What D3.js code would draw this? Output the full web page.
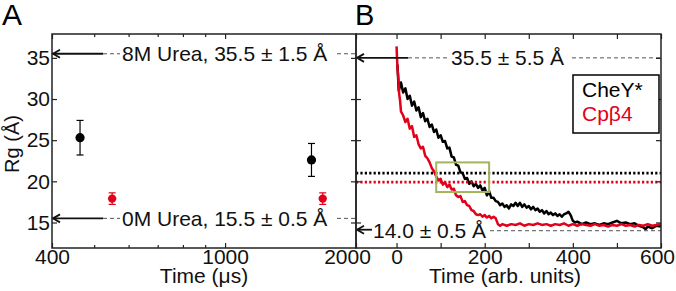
<!DOCTYPE html>
<html><head><meta charset="utf-8">
<script src="https://cdn.jsdelivr.net/npm/d3@7"></script>
<style>
body{margin:0;background:#fff}
svg{display:block;font-family:"Liberation Sans",Arial,sans-serif}
</style>
</head><body>
<svg id="c" width="676" height="291"></svg>
<script>
// ---------- Panel A data ----------
const aTimeBlack = [464, 1580];
const aRgBlack   = [25.3, 22.6];
const aErrBlack  = [2.1, 2.0];
const aTimeRed   = [550, 1677];
const aRgRed     = [17.9, 17.9];
const aErrRed    = [0.7, 0.7];
const aXTicks    = [400, 1000, 2000];
const aXMinor    = [500, 600, 700, 800, 900];
const yTicks     = [15, 20, 25, 30, 35];
const aRefValues = [35.5, 15.5];
const aRefLabels = ["8M Urea, 35.5 ± 1.5 Å", "0M Urea, 15.5 ± 0.5 Å"];

// ---------- Panel B data ----------
const tBlack = [2,5,10,15,20,25,30,35,40,45,50,55,60,65,70,75,80,85,90,95,100,105,110,115,120,125,130,135,140,145,150,155,160,165,170,175,180,185,190,195,200,205,210,215,220,225,230,235,240,245,250,255,260,265,270,275,280,285,290,295,300,305,310,315,320,325,330,335,340,345,350,355,360,365,370,375,380,385,390,395,400,405,410,420,430,440,450,460,470,480,490,500,510,520,530,540,550,560,565,570,580,590,600];
const rgBlack = [34.2,31.0,32.0,30.8,31.3,30.0,30.4,29.2,29.7,28.6,29.0,27.8,28.3,27.3,27.6,26.6,26.9,26.0,26.3,25.3,25.6,24.8,24.9,24.0,24.1,23.0,22.9,22.0,21.9,21.1,21.0,20.3,20.4,19.7,20.0,19.4,19.7,19.2,19.5,18.9,19.2,18.3,18.8,18.0,18.0,17.6,17.5,17.1,17.3,16.9,17.1,16.7,17.2,17.0,17.4,17.0,17.4,16.9,17.2,16.8,17.0,16.6,16.9,16.5,16.7,16.3,16.5,16.1,16.4,16.0,16.2,15.9,16.1,15.8,16.0,15.7,16.0,16.1,16.3,15.9,15.2,15.0,15.1,14.8,15.0,14.8,14.9,14.7,14.9,14.8,15.0,15.2,14.9,15.0,14.8,14.9,14.6,14.4,14.2,14.5,14.3,14.6,14.5];
const tRed = [0,2,4,6,8,10,15,20,25,30,35,40,45,50,55,60,65,70,75,80,85,90,95,100,105,110,115,120,125,130,135,140,145,150,155,160,165,170,175,180,185,190,195,200,205,210,215,220,225,230,235,240,250,260,270,280,290,300,310,320,330,340,350,360,370,380,390,400,410,420,430,440,450,460,470,480,490,500,510,520,530,540,550,560,570,580,590,600];
const rgRed = [36.4,33.8,32.6,30.6,29.8,28.5,28.0,27.2,27.6,26.4,26.7,25.4,25.6,24.5,24.0,24.2,23.1,22.8,22.3,21.6,21.2,20.6,20.1,20.3,19.6,19.9,19.3,19.6,19.0,19.1,18.3,18.1,18.2,17.5,17.6,17.1,17.0,16.5,16.4,16.0,15.9,16.0,15.7,15.9,15.6,15.8,15.5,15.7,15.5,14.8,14.6,14.8,14.6,14.8,14.7,14.9,14.6,14.8,14.7,14.9,14.7,14.8,14.6,14.8,14.7,14.9,14.6,14.8,14.6,14.8,14.7,14.6,14.8,14.6,14.7,14.5,14.7,14.6,14.8,14.6,14.7,14.5,14.7,14.6,14.8,14.6,14.7,14.8];
const bXTicks = [0, 100, 200, 300, 400, 500, 600];
const bXLabels = [0, 200, 400, 600];
const bRefValues = [35.0, 14.0];
const bRefLabels = ["35.5 ± 5.5 Å", "14.0 ± 0.5 Å"];
const plateauValues = [21.0, 19.9];
const boxT = [90, 210];
const boxRg = [18.7, 22.3];
const legendNames = ["CheY*", "Cpβ4"];

const RED = "#e2001a", BLK = "#000", AX = "#222", GRN = "#a2b55e", DASH = "#555";
const svg = d3.select("#c");
const yTop = 34, yBot = 248;
const y = d3.scaleLinear().domain([11.9, 37.9]).range([yBot, yTop]);
const xA = d3.scaleLog().domain([400, 2000]).range([52, 356]);
const xB = d3.scaleLinear().domain([-92, 600]).range([356, 661]);
const FS = 21;

function styleAxis(g){
  g.select(".domain").remove();
  g.selectAll("line").attr("stroke", AX).attr("stroke-width", 1.2);
  g.selectAll("text").attr("font-size", FS).attr("fill", "#111").attr("font-family", "Liberation Sans, Arial, sans-serif");
}

// ---------- Panel B traces ----------
const line = d3.line().x(d => xB(d[0])).y(d => y(d[1]));
svg.append("path").datum(tBlack.map((t,i)=>[t, rgBlack[i]]))
  .attr("d", line).attr("fill","none").attr("stroke",BLK).attr("stroke-width",2.5).attr("stroke-linejoin","round");
svg.append("path").datum(tRed.map((t,i)=>[t, rgRed[i]]))
  .attr("d", line).attr("fill","none").attr("stroke",RED).attr("stroke-width",2.5).attr("stroke-linejoin","round");

// plateau dotted lines
[BLK, RED].forEach((c,i)=>{
  svg.append("line").attr("x1", xB(-92)).attr("x2", xB(600))
    .attr("y1", y(plateauValues[i])).attr("y2", y(plateauValues[i]))
    .attr("stroke", c).attr("stroke-width", 2.6).attr("stroke-dasharray","2.2 2.2");
});

// green box
svg.append("rect").attr("x", xB(boxT[0])).attr("y", y(boxRg[1]))
  .attr("width", xB(boxT[1]) - xB(boxT[0])).attr("height", y(boxRg[0]) - y(boxRg[1]))
  .attr("fill","none").attr("stroke",GRN).attr("stroke-width",2);

// ---------- Panel A error bars and points ----------
function errPts(ts, rs, es, col, r){
  ts.forEach((t,i)=>{
    const cx = xA(t);
    svg.append("line").attr("x1",cx).attr("x2",cx).attr("y1",y(rs[i]+es[i])).attr("y2",y(rs[i]-es[i])).attr("stroke",col).attr("stroke-width",1.2);
    [rs[i]+es[i], rs[i]-es[i]].forEach(v=>{
      svg.append("line").attr("x1",cx-3.5).attr("x2",cx+3.5).attr("y1",y(v)).attr("y2",y(v)).attr("stroke",col).attr("stroke-width",1.2);
    });
    svg.append("circle").attr("cx",cx).attr("cy",y(rs[i])).attr("r",r).attr("fill",col);
  });
}
errPts(aTimeBlack, aRgBlack, aErrBlack, BLK, 4.6);
errPts(aTimeRed, aRgRed, aErrRed, RED, 4.2);

// ---------- Reference annotations ----------
function arrow(x0, x1, yy){
  svg.append("line").attr("x1",x0).attr("x2",x1).attr("y1",yy).attr("y2",yy).attr("stroke","#111").attr("stroke-width",1.8);
  svg.append("path").attr("d",`M${x1+8},${yy-4} L${x1+1},${yy} L${x1+8},${yy+4}`).attr("fill","none").attr("stroke","#111").attr("stroke-width",1.8);
}
function dashed(x0, x1, yy){
  svg.append("line").attr("x1",x0).attr("x2",x1).attr("y1",yy).attr("y2",yy).attr("stroke",DASH).attr("stroke-width",1).attr("stroke-dasharray","4 3");
}
aRefValues.forEach((v,i)=>{
  const yy = y(v);
  arrow(103, xA(400), yy);
  dashed(103, 120, yy);
  svg.append("text").attr("x",122).attr("y",yy+7.5).attr("font-size",FS).attr("fill","#111").text(aRefLabels[i]);
  dashed(337, 356, yy);
});
{
  const yy = y(bRefValues[0]);
  arrow(408, xB(-92), yy);
  dashed(408, 448, yy);
  svg.append("text").attr("x",451).attr("y",yy+7.5).attr("font-size",FS).attr("fill","#111").text(bRefLabels[0]);
  dashed(572, 661, yy);
}
{
  const yy = y(bRefValues[1]);
  arrow(372, xB(-92), yy - 1);
  svg.append("text").attr("x",373).attr("y",yy+7.5).attr("font-size",FS).attr("fill","#111").text(bRefLabels[1]);
  dashed(490, 661, yy);
}

// ---------- Axes ----------
svg.append("g").attr("transform",`translate(0,${yBot})`)
  .call(d3.axisBottom(xA).tickValues(aXTicks).tickSize(-5).tickSizeOuter(0).tickPadding(1).tickFormat(d3.format("d")))
  .call(styleAxis)
  .call(g=>g.selectAll(".tick").filter(d=>d===2000).select("text").attr("dx",-9));
svg.append("g").attr("transform",`translate(0,${yBot})`)
  .call(d3.axisBottom(xA).tickValues(aXMinor).tickSize(-3).tickFormat(""))
  .call(styleAxis);
svg.append("g").attr("transform",`translate(0,${yTop})`)
  .call(d3.axisTop(xA).tickValues(aXTicks).tickSize(-5).tickFormat(""))
  .call(styleAxis);
svg.append("g").attr("transform",`translate(0,${yTop})`)
  .call(d3.axisTop(xA).tickValues(aXMinor).tickSize(-3).tickFormat(""))
  .call(styleAxis);
svg.append("g").attr("transform",`translate(${xA(400)},0)`)
  .call(d3.axisLeft(y).tickValues(yTicks).tickSize(-5).tickPadding(2))
  .call(styleAxis);
svg.append("g").attr("transform",`translate(356,0)`)
  .call(d3.axisRight(y).tickValues(yTicks).tickSize(-5).tickFormat(""))
  .call(styleAxis);
svg.append("g").attr("transform",`translate(356,0)`)
  .call(d3.axisLeft(y).tickValues(yTicks).tickSize(-5).tickFormat(""))
  .call(styleAxis);
svg.append("g").attr("transform",`translate(${xB(600)},0)`)
  .call(d3.axisRight(y).tickValues(yTicks).tickSize(-5).tickFormat(""))
  .call(styleAxis);
svg.append("g").attr("transform",`translate(0,${yBot})`)
  .call(d3.axisBottom(xB).tickValues(bXTicks).tickSize(-5).tickPadding(1)
    .tickFormat(d => bXLabels.includes(d) ? String(d) : ""))
  .call(styleAxis)
  .call(g=>g.selectAll(".tick").filter(d=>d===600).select("text").attr("dx",-4));
svg.append("g").attr("transform",`translate(0,${yTop})`)
  .call(d3.axisTop(xB).tickValues(bXTicks).tickSize(-5).tickFormat(""))
  .call(styleAxis);

// frames
svg.append("rect").attr("x",xA(400)).attr("y",yTop).attr("width",xA(2000)-xA(400)).attr("height",yBot-yTop)
  .attr("fill","none").attr("stroke",AX).attr("stroke-width",1.5);
svg.append("rect").attr("x",xB(-92)).attr("y",yTop).attr("width",xB(600)-xB(-92)).attr("height",yBot-yTop)
  .attr("fill","none").attr("stroke",AX).attr("stroke-width",1.5);

// legend
svg.append("rect").attr("x",573).attr("y",75).attr("width",86).attr("height",58)
  .attr("fill","#fff").attr("stroke","#000").attr("stroke-width",1.5);
svg.append("text").attr("x",582).attr("y",96.5).attr("font-size",FS).attr("fill",BLK).text(legendNames[0]);
svg.append("text").attr("x",582).attr("y",121).attr("font-size",FS).attr("fill",RED).text(legendNames[1]);

// axis titles
svg.append("text").attr("x", 204).attr("y", 283).attr("text-anchor","middle")
  .attr("font-size",FS).attr("fill","#111").text("Time (μs)");
svg.append("text").attr("x", 505).attr("y", 283).attr("text-anchor","middle")
  .attr("font-size",FS).attr("fill","#111").text("Time (arb. units)");
svg.append("text").attr("transform",`translate(19,144) rotate(-90)`).attr("text-anchor","middle")
  .attr("font-size",20).attr("fill","#111").text("Rg (Å)");

// panel letters
svg.append("text").attr("x",2).attr("y",25).attr("font-size",30).attr("fill","#000").text("A");
svg.append("text").attr("x",355).attr("y",25).attr("font-size",29).attr("fill","#000").text("B");
</script>
</body></html>
